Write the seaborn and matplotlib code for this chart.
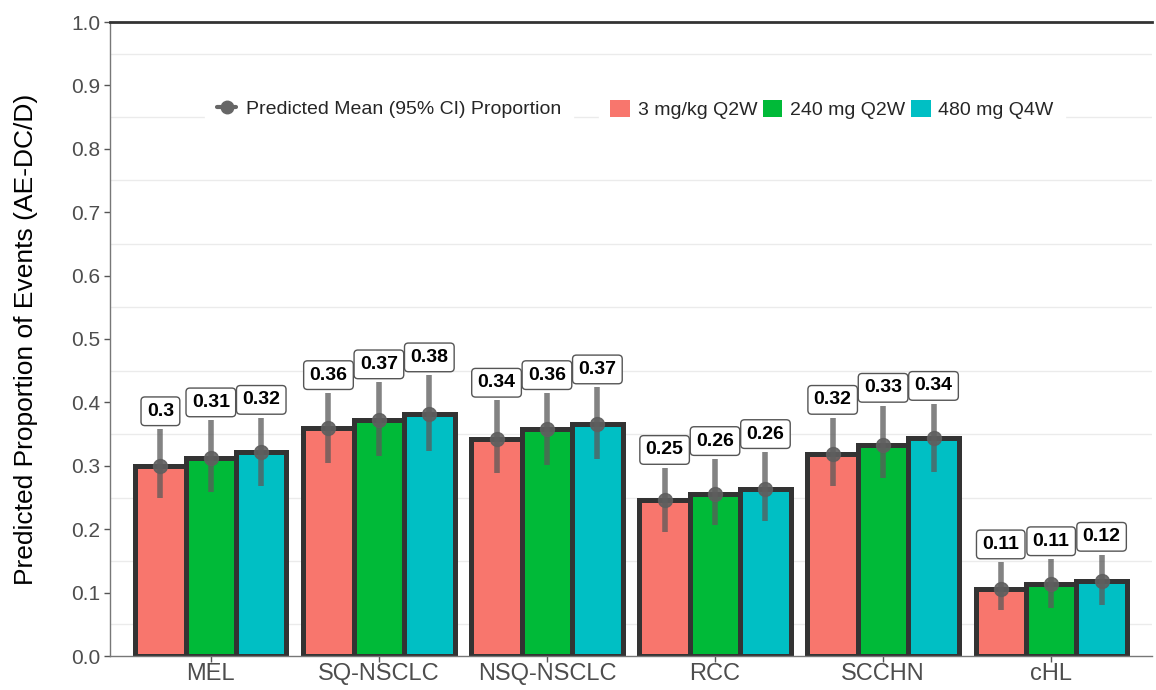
import matplotlib
matplotlib.use("Agg")
import matplotlib.pyplot as plt
from matplotlib.lines import Line2D
from matplotlib.patches import Patch
import numpy as np
import pandas as pd
import seaborn as sns

# data
indications = ["MEL", "SQ-NSCLC", "NSQ-NSCLC", "RCC", "SCCHN", "cHL"]
regimens = ["3 mg/kg Q2W", "240 mg Q2W", "480 mg Q4W"]
colors = ["#F8766D", "#00BA38", "#00BFC4"]

mean_q2w_3 = [0.300, 0.360, 0.342, 0.246, 0.319, 0.106]
mean_q2w_240 = [0.312, 0.373, 0.358, 0.256, 0.333, 0.113]
mean_q4w_480 = [0.322, 0.381, 0.366, 0.263, 0.344, 0.118]

lo_q2w_3 = [0.250, 0.305, 0.288, 0.196, 0.268, 0.072]
lo_q2w_240 = [0.258, 0.316, 0.302, 0.207, 0.281, 0.075]
lo_q4w_480 = [0.268, 0.324, 0.310, 0.213, 0.290, 0.080]

hi_q2w_3 = [0.358, 0.415, 0.403, 0.297, 0.376, 0.148]
hi_q2w_240 = [0.372, 0.432, 0.415, 0.311, 0.395, 0.153]
hi_q4w_480 = [0.376, 0.443, 0.424, 0.322, 0.398, 0.160]


def build_frame():
    rows = []
    means = [mean_q2w_3, mean_q2w_240, mean_q4w_480]
    los = [lo_q2w_3, lo_q2w_240, lo_q4w_480]
    his = [hi_q2w_3, hi_q2w_240, hi_q4w_480]
    for r, reg in enumerate(regimens):
        for i, ind in enumerate(indications):
            rows.append({"indication": ind, "regimen": reg,
                         "mean": means[r][i], "lo": los[r][i], "hi": his[r][i]})
    return pd.DataFrame(rows)


df = build_frame()

sns.set_theme(style="white")
plt.rcParams["font.family"] = ["Liberation Sans", "DejaVu Sans"]

fig = plt.figure(figsize=(11.56, 6.90), dpi=100)
# axes from y=22 px (1.0) down to y=656 px (0.0)
ax = fig.add_axes([110 / 1156, 34 / 690, 1042 / 1156, 634 / 690])

sns.barplot(data=df, x="indication", y="mean", hue="regimen",
            order=indications, hue_order=regimens, palette=colors,
            width=0.9, errorbar=None, edgecolor="#333333", linewidth=3.6,
            saturation=1, legend=False, ax=ax)

# error bars, points and boxed labels at the bar centres
for reg, container in zip(regimens, ax.containers):
    sub = df[df["regimen"] == reg].set_index("indication").loc[indications]
    for bar, (_, row) in zip(container, sub.iterrows()):
        xc = bar.get_x() + bar.get_width() / 2
        ax.vlines(xc, row["lo"], row["hi"], color="#5a5a5a", alpha=0.75,
                  linewidth=4.0, zorder=4)
        ax.plot(xc, row["mean"], "o", color="#5f5f5f", markersize=10,
                alpha=0.9, zorder=5)
        ax.text(xc, row["hi"] + 0.028, f"{round(row['mean'], 2):g}",
                ha="center", va="center", fontsize=14, fontweight="bold",
                color="black", zorder=6,
                bbox=dict(boxstyle="round,pad=0.3,rounding_size=0.2",
                          fc="white", ec="#555555", lw=1.0))

ax.set_xlim(-0.6, 5.6)
ax.set_ylim(0, 1.0)
ax.set_yticks(np.arange(0, 1.01, 0.1))
ax.set_yticklabels([f"{v:.1f}" for v in np.arange(0, 1.01, 0.1)])
ax.set_yticks(np.arange(0.05, 1.0, 0.1), minor=True)
ax.grid(False)
ax.grid(True, which="minor", axis="y", color="#ebebeb", linewidth=1.0)
ax.set_axisbelow(True)

ax.tick_params(axis="y", which="major", labelsize=15, labelcolor="#4d4d4d",
               length=4, width=1, color="#555555", left=True, pad=3)
ax.tick_params(axis="y", which="minor", length=0)
ax.tick_params(axis="x", labelsize=17, labelcolor="#4d4d4d", length=4,
               width=1, color="#555555", bottom=True, pad=1)
ax.set_xlabel("")
ax.set_ylabel("Predicted Proportion of Events (AE-DC/D)", fontsize=19,
              color="black", labelpad=24)

for side in ["left", "bottom"]:
    ax.spines[side].set_color("#777777")
    ax.spines[side].set_linewidth(1.0)
ax.spines["top"].set_color("#333333")
ax.spines["top"].set_linewidth(2.0)
ax.spines["right"].set_visible(False)

# two legends like the original: point range and fill
pt_handle = Line2D([0], [0], color="#666666", marker="o", markersize=9,
                   linewidth=3)
leg1 = ax.legend(handles=[pt_handle],
                 labels=["Predicted Mean (95% CI) Proportion"],
                 loc="center", bbox_to_anchor=((389 - 110) / 1042, 0.862),
                 frameon=True, fontsize=14, handlelength=1.0,
                 handletextpad=0.5, borderpad=0.6, fancybox=False)
leg1.get_frame().set_edgecolor("white")
leg1.get_frame().set_facecolor("white")
leg1.get_frame().set_alpha(1)
ax.add_artist(leg1)

fill_handles = [Patch(facecolor=c, edgecolor="none") for c in colors]
leg2 = ax.legend(handles=fill_handles, labels=regimens, loc="center",
                 bbox_to_anchor=((832 - 110) / 1042, 0.862), ncol=3,
                 frameon=True, fontsize=14, handlelength=1.0,
                 handleheight=1.0, handletextpad=0.4, columnspacing=0.3,
                 borderpad=0.6, fancybox=False)
leg2.get_frame().set_edgecolor("white")
leg2.get_frame().set_facecolor("white")
leg2.get_frame().set_alpha(1)

fig.savefig("out.png", dpi=100)
